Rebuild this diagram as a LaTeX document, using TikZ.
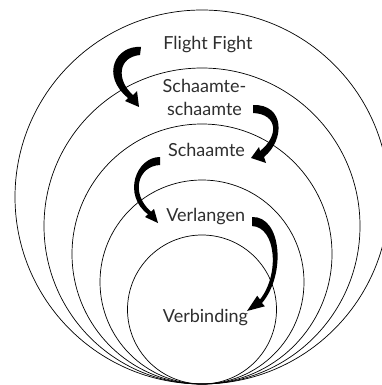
\documentclass[tikz,border=0pt]{standalone}
\usepackage{fontspec}
\setmainfont{Lato}
\definecolor{txt}{HTML}{2E2E2E}
\begin{document}
\begin{tikzpicture}[x=1pt,y=-1pt,
  ring/.style={draw=black,line width=0.7pt},
  lbl/.style={anchor=base,text=txt,font=\fontsize{18}{22.3}\selectfont,inner sep=0pt,align=center},
  brush/.style={fill=black,draw=none}]
\useasboundingbox[fill=white] (0,0) rectangle (382,385);
% nested circles, tangent at the bottom
\foreach \r in {187,158,130,102,74.5}{
  \draw[ring] (202,384-\r) circle[radius=\r pt];
}
% labels
\node[lbl] (ff) at (208,49.3) {Flight Fight};
\node[lbl] (ss) at (204.5,115) {Schaamte-\\schaamte};
\node[lbl] (s) at (206.5,156) {Schaamte};
\node[lbl] (v) at (205.7,221.7) {Verlangen};
\node[lbl] (vb) at (205.5,322.7) {Verbinding};
% tapered arrows
\fill[brush] (141,47) .. controls (116,45) and (100,75) .. (128,98)
  -- (125,101) -- (139,107) -- (137,91) -- (133,95)
  .. controls (116,80) and (118,57) .. (140,55) -- cycle;
\fill[brush] (253,105) .. controls (285,104) and (285,140) .. (264,157)
  -- (266,163) -- (251,158) -- (259,147) -- (260,151)
  .. controls (279,136) and (278,114) .. (253,113) -- cycle;
\fill[brush] (160,157) .. controls (136,157) and (122,195) .. (148,214.3)
  -- (145,217) -- (158,223) -- (154,209) -- (151,211.7)
  .. controls (130,193) and (138,166) .. (160,165) -- cycle;
\fill[brush] (252,217) .. controls (282,216) and (286,275) .. (262,303)
  -- (264.8,306.3) -- (247,311) -- (257.2,295.7) -- (260,299.5)
  .. controls (280,274) and (276,227) .. (252,226) -- cycle;
\end{tikzpicture}
\end{document}
